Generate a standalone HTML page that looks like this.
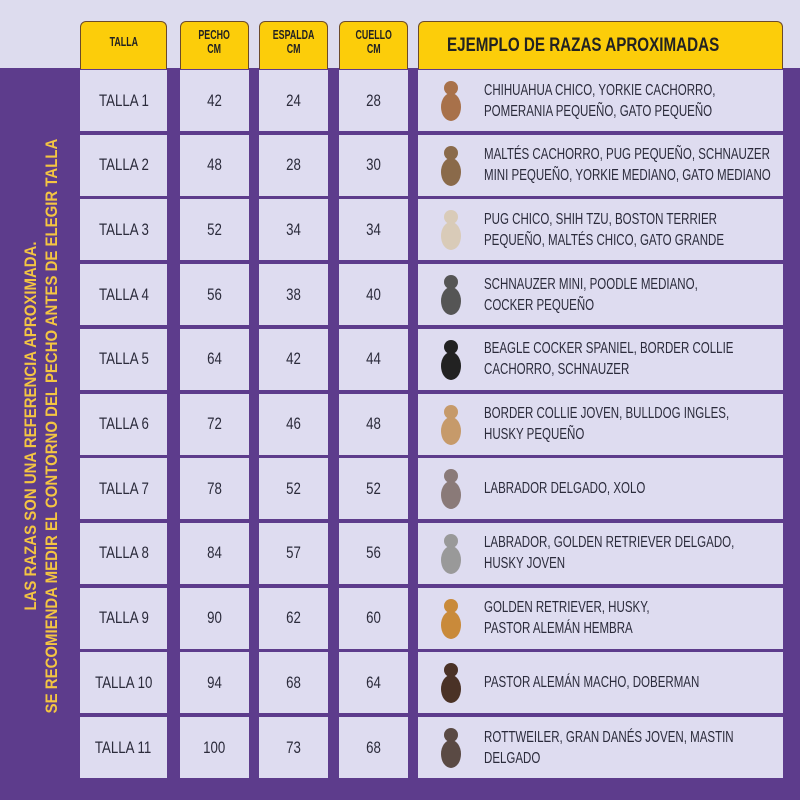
<!DOCTYPE html>
<html><head><meta charset="utf-8"><style>
*{margin:0;padding:0;box-sizing:border-box}
body{width:800px;height:800px;overflow:hidden;background:#5d3c8c;position:relative;font-family:"Liberation Sans",sans-serif;color:#2b2b3b}
.top{position:absolute;left:0;top:0;width:800px;height:68px;background:#dddcee}
.h{position:absolute;top:21px;height:48px;background:#fccd0a;border:1.5px solid #6b4a2a;border-bottom:none;border-radius:6px 6px 0 0;font-weight:bold;font-size:13px;text-align:center;line-height:14px;color:#222;display:flex;align-items:center;justify-content:center;padding-bottom:8px}
.h span{display:inline-block;transform:scaleX(0.68);white-space:nowrap}
.c{position:absolute;height:61px;background:#dedcf0;display:flex;align-items:center;justify-content:center;font-size:17px}
.c span{display:inline-block;transform:scaleX(0.78);white-space:nowrap}
.r{justify-content:flex-start;padding-left:66px;font-size:16px;line-height:21px;text-transform:uppercase}
.r span{transform:scaleX(0.72);transform-origin:left center}
.dog{position:absolute;left:18px;top:8px;width:30px;height:46px}
.side{position:absolute;left:41px;top:426px;transform:translate(-50%,-50%) rotate(-90deg) scaleX(0.88);white-space:nowrap;color:#f4c542;font-weight:bold;font-size:17px;line-height:21px;text-align:center}
</style></head><body>
<div class="top"></div>
<div class="h" style="left:80px;width:87px"><span>TALLA</span></div>
<div class="h" style="left:180px;width:69px"><span>PECHO<br>CM</span></div>
<div class="h" style="left:259px;width:69px"><span>ESPALDA<br>CM</span></div>
<div class="h" style="left:339px;width:69px"><span>CUELLO<br>CM</span></div>
<div class="h" style="left:418px;width:365px;font-size:19px;padding-bottom:0;line-height:48px;justify-content:flex-start"><span style="transform:scaleX(0.8);transform-origin:left center;margin-left:28px">EJEMPLO DE RAZAS APROXIMADAS</span></div>
<div class="side">LAS RAZAS SON UNA REFERENCIA APROXIMADA.<br>SE RECOMIENDA MEDIR EL CONTORNO DEL PECHO ANTES DE ELEGIR TALLA</div>
<div id="rows"></div>
<script>
var d=[["1","42","24","28","Chihuahua chico, Yorkie cachorro,<br>Pomerania pequeño, gato pequeño","#a8714a"],
["2","48","28","30","Maltés cachorro, Pug pequeño, Schnauzer<br>mini pequeño, Yorkie mediano, gato mediano","#8a6a4a"],
["3","52","34","34","Pug chico, Shih Tzu, Boston Terrier<br>pequeño, Maltés chico, gato grande","#d9cbb8"],
["4","56","38","40","Schnauzer mini, Poodle mediano,<br>Cocker pequeño","#555"],
["5","64","42","44","Beagle Cocker Spaniel, Border Collie<br>cachorro, Schnauzer","#222"],
["6","72","46","48","Border Collie joven, Bulldog ingles,<br>Husky pequeño","#c69a6a"],
["7","78","52","52","Labrador delgado, Xolo","#8a7a78"],
["8","84","57","56","Labrador, Golden Retriever delgado,<br>Husky joven","#999"],
["9","90","62","60","Golden Retriever, Husky,<br>Pastor Alemán hembra","#c98a3a"],
["10","94","68","64","Pastor Alemán macho, Doberman","#4a3226"],
["11","100","73","68","Rottweiler, Gran Danés joven, Mastin<br>delgado","#5a4a44"]];
var h="";
d.forEach(function(r,i){var y=(70+i*64.7).toFixed(1);
h+='<div class="c" style="top:'+y+'px;left:80px;width:87px"><span>TALLA '+r[0]+'</span></div>';
h+='<div class="c" style="top:'+y+'px;left:180px;width:69px"><span>'+r[1]+'</span></div>';
h+='<div class="c" style="top:'+y+'px;left:259px;width:69px"><span>'+r[2]+'</span></div>';
h+='<div class="c" style="top:'+y+'px;left:339px;width:69px"><span>'+r[3]+'</span></div>';
h+='<div class="c r" style="top:'+y+'px;left:418px;width:365px"><svg class="dog" viewBox="0 0 30 46"><ellipse cx="15" cy="10" rx="7" ry="7" fill="'+r[5]+'"/><ellipse cx="15" cy="29" rx="10" ry="14" fill="'+r[5]+'"/></svg><span>'+r[4]+'</span></div>';});
document.getElementById("rows").innerHTML=h;
</script>
</body></html>
